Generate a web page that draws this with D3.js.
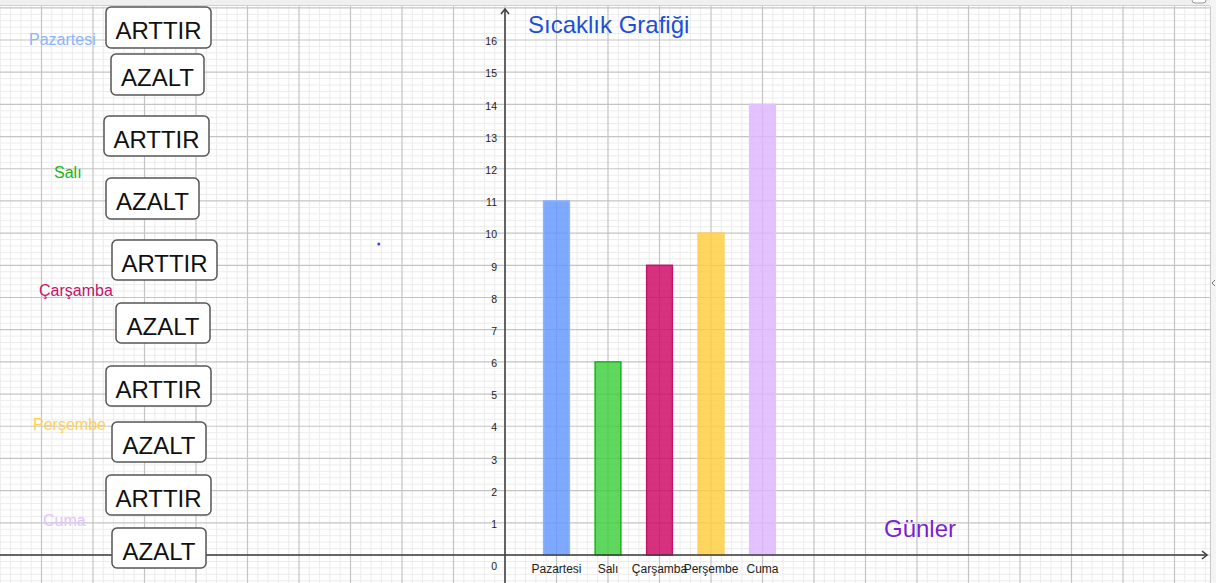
<!DOCTYPE html>
<html>
<head>
<meta charset="utf-8">
<script src="https://cdn.jsdelivr.net/npm/d3@7"></script>
<style>
  body { margin: 0; background: #fff; }
  svg { display: block; font-family: "Liberation Sans", Arial, sans-serif; }
</style>
</head>
<body>
<svg id="chart" width="1216" height="583"></svg>
<script>
// Sıcaklık grafiği (GeoGebra style bar chart)

var days   = ["Pazartesi", "Salı", "Çarşamba", "Perşembe", "Cuma"]
  , temps  = [11, 6, 9, 10, 14]
  , yTicks = [1, 2, 3, 4, 5, 6, 7, 8, 9, 10, 11, 12, 13, 14, 15, 16]
  , title  = "Sıcaklık Grafiği"
  , xLabel = "Günler"
  ;

var fills   = ["#6395ff", "#3dd03d", "#cd0563", "#ffcd3d", "#ddb5fc"]
  , strokes = ["#8ab4ff", "#19b419", "#c4136a", "#ffd050", "#e2c2fd"]
  ;

// left side labels and buttons (plain layout, in pixels)
var sideLabels = [[29, 45], [54, 178], [39, 296], [33, 430], [43, 526]];
var buttons = [
  ["ARTTIR", 106, 7, 105, 41], ["AZALT", 111, 54, 93, 41],
  ["ARTTIR", 104, 116, 105, 40], ["AZALT", 106, 178, 93, 41],
  ["ARTTIR", 112, 240, 105, 40], ["AZALT", 116, 303, 94, 40],
  ["ARTTIR", 106, 366, 105, 40], ["AZALT", 112, 422, 94, 40],
  ["ARTTIR", 106, 475, 105, 40], ["AZALT", 112, 528, 94, 40]
];

var W = 1216, H = 583
  , plotRight = 1210, plotTop = 6
  ;

var svg = d3.select("#chart");

// scales: origin at (505, 555), one unit = 51.5px across, 32.19px up
var x = d3.scaleLinear().domain([-505 / 51.5, (plotRight - 505) / 51.5]).range([0, plotRight]);
var y = d3.scaleLinear().domain([0, 16]).range([555, 40]);

var xMin = x.domain()[0], xMax = x.domain()[1]
  , yMin = y.invert(H), yMax = y.invert(plotTop)
  ;

// grid
var grid = svg.append("g");
var minorX = d3.range(Math.ceil(xMin * 5), Math.floor(xMax * 5) + 1).filter(function (i) { return i % 5 !== 0; })
  , minorY = d3.range(Math.ceil(yMin * 5), Math.floor(yMax * 5) + 1).filter(function (i) { return i % 5 !== 0; })
  , majorX = d3.range(Math.ceil(xMin), Math.floor(xMax) + 1)
  , majorY = d3.range(Math.ceil(yMin), Math.floor(yMax) + 1)
  ;

grid.selectAll(".mx").data(minorX).enter().append("line")
    .attr("x1", function (d) { return x(d / 5); }).attr("x2", function (d) { return x(d / 5); })
    .attr("y1", plotTop).attr("y2", H)
    .attr("stroke", "#ececec").attr("stroke-width", 1);
grid.selectAll(".my").data(minorY).enter().append("line")
    .attr("y1", function (d) { return y(d / 5); }).attr("y2", function (d) { return y(d / 5); })
    .attr("x1", 0).attr("x2", plotRight)
    .attr("stroke", "#ececec").attr("stroke-width", 1);
grid.selectAll(".Mx").data(majorX).enter().append("line")
    .attr("x1", function (d) { return x(d); }).attr("x2", function (d) { return x(d); })
    .attr("y1", plotTop).attr("y2", H)
    .attr("stroke", "#c4c4c4").attr("stroke-width", 1.2);
grid.selectAll(".My").data(majorY).enter().append("line")
    .attr("y1", function (d) { return y(d); }).attr("y2", function (d) { return y(d); })
    .attr("x1", 0).attr("x2", plotRight)
    .attr("stroke", "#c4c4c4").attr("stroke-width", 1.2);

// bars
svg.selectAll(".bar").data(temps).enter().append("rect")
   .attr("x", function (d, i) { return x(i + 1 - 0.25); })
   .attr("width", function (d, i) { return x(i + 1.25) - x(i + 0.75); })
   .attr("y", function (d) { return y(d); })
   .attr("height", function (d) { return y(0) - y(d); })
   .attr("fill", function (d, i) { return fills[i]; })
   .attr("fill-opacity", 0.82)
   .attr("stroke", function (d, i) { return strokes[i]; })
   .attr("stroke-width", 1.5);

// axes
var axisColor = "#3c3c3c";
svg.append("line")
   .attr("x1", 0).attr("x2", plotRight - 3)
   .attr("y1", y(0)).attr("y2", y(0))
   .attr("stroke", axisColor).attr("stroke-width", 1.5);
svg.append("line")
   .attr("x1", x(0)).attr("x2", x(0))
   .attr("y1", H).attr("y2", plotTop + 3)
   .attr("stroke", axisColor).attr("stroke-width", 1.5);
svg.append("path")
   .attr("d", "M" + (plotRight - 8) + "," + (y(0) - 4) + "L" + (plotRight - 3) + "," + y(0) + "L" + (plotRight - 8) + "," + (y(0) + 4))
   .attr("fill", "none").attr("stroke", axisColor).attr("stroke-width", 1.5);
svg.append("path")
   .attr("d", "M" + (x(0) - 4) + "," + (plotTop + 8) + "L" + x(0) + "," + (plotTop + 3) + "L" + (x(0) + 4) + "," + (plotTop + 8))
   .attr("fill", "none").attr("stroke", axisColor).attr("stroke-width", 1.5);

var yAxis = svg.append("g")
   .attr("transform", "translate(" + (x(0) - 1) + ",0)")
   .call(d3.axisLeft(y).tickValues(yTicks).tickSize(0).tickPadding(7).tickFormat(d3.format("d")));
yAxis.select(".domain").remove();
yAxis.selectAll("text")
     .attr("font-family", "'Liberation Sans', Arial, sans-serif")
     .attr("font-size", 10.5).attr("fill", "#222").attr("dy", "0.45em");

svg.append("text")
   .attr("x", x(0) - 8).attr("y", y(0) + 15)
   .attr("text-anchor", "end")
   .attr("font-size", 10.5).attr("fill", "#222")
   .text("0");

// category labels under bars
svg.selectAll(".cat").data(days).enter().append("text")
   .attr("x", function (d, i) { return x(i + 1); })
   .attr("y", 573)
   .attr("text-anchor", "middle")
   .attr("font-size", 12).attr("fill", "#222")
   .text(function (d) { return d; });

// title and x label
svg.append("text")
   .attr("x", 528).attr("y", 33)
   .attr("font-size", 24).attr("fill", "#1c4fd8")
   .text(title);
svg.append("text")
   .attr("x", 884).attr("y", 537)
   .attr("font-size", 24).attr("fill", "#7a1fd0")
   .text(xLabel);

// side labels
svg.selectAll(".side").data(days).enter().append("text")
   .attr("x", function (d, i) { return sideLabels[i][0]; })
   .attr("y", function (d, i) { return sideLabels[i][1]; })
   .attr("font-size", 16)
   .attr("fill", function (d, i) { return strokes[i]; })
   .text(function (d) { return d; });

// buttons
var btn = svg.selectAll(".btn").data(buttons).enter().append("g");
btn.append("rect")
   .attr("x", function (d) { return d[1]; }).attr("y", function (d) { return d[2]; })
   .attr("width", function (d) { return d[3]; }).attr("height", function (d) { return d[4]; })
   .attr("rx", 5).attr("ry", 5)
   .attr("fill", "#fff").attr("stroke", "#555").attr("stroke-width", 1.5);
btn.append("text")
   .attr("x", function (d) { return d[1] + d[3] / 2; })
   .attr("y", function (d) { return d[2] + 32; })
   .attr("text-anchor", "middle")
   .attr("font-size", 24).attr("fill", "#111")
   .text(function (d) { return d[0]; });

// small point
svg.append("circle")
   .attr("cx", x(-2.45)).attr("cy", y(9.66)).attr("r", 1.5)
   .attr("fill", "#3344ee");

// window chrome: top strip and right strip
svg.append("rect").attr("x", 0).attr("y", 0).attr("width", W).attr("height", plotTop).attr("fill", "#f0f0f0");
svg.append("line").attr("x1", 0).attr("x2", plotRight).attr("y1", plotTop - 0.5).attr("y2", plotTop - 0.5)
   .attr("stroke", "#d0d0d0");
svg.append("rect").attr("x", plotRight).attr("y", 0).attr("width", W - plotRight).attr("height", H).attr("fill", "#f4f4f4");
svg.append("line").attr("x1", plotRight + 0.5).attr("x2", plotRight + 0.5).attr("y1", plotTop).attr("y2", H)
   .attr("stroke", "#c8c8c8");
svg.append("path").attr("d", "M1215,280L1212,283L1215,286").attr("fill", "none").attr("stroke", "#777");
svg.append("rect").attr("x", 1192).attr("y", -4).attr("width", 14).attr("height", 7).attr("rx", 3)
   .attr("fill", "#fff").attr("stroke", "#999");
</script>
</body>
</html>
